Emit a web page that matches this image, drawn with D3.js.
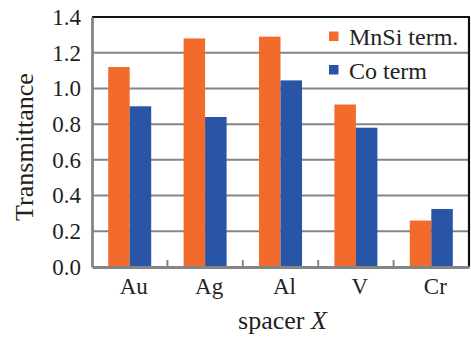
<!DOCTYPE html>
<html>
<head>
<meta charset="utf-8">
<script src="https://cdn.jsdelivr.net/npm/d3@7"></script>
<style>
  body { margin: 0; background: #fff; }
  text { font-family: "Liberation Serif", "Times New Roman", serif; fill: #231f20; }
</style>
</head>
<body>
<svg id="chart" width="471" height="339"></svg>
<script>
const spacers = ["Au", "Ag", "Al", "V", "Cr"];
const mnsiTerm = [1.12, 1.28, 1.29, 0.91, 0.26];
const coTerm = [0.90, 0.84, 1.045, 0.78, 0.325];
const seriesNames = ["MnSi term.", "Co term"];
const seriesColors = ["#f26b2d", "#2855a6"];
const yTicks = [0, 0.2, 0.4, 0.6, 0.8, 1.0, 1.2, 1.4];

const svg = d3.select("#chart");
const margin = { left: 92, right: 2, top: 17, bottom: 72 };
const width = 471, height = 339;
const gray = "#858585";
const serif = "'Liberation Serif', 'Times New Roman', serif";

const x = d3.scaleBand()
    .domain(spacers)
    .range([margin.left, width - margin.right]);

const x1 = d3.scaleBand()
    .domain([0, 1])
    .range([0, 43]);

const y = d3.scaleLinear()
    .domain([0, 1.4])
    .range([height - margin.bottom, margin.top]);

// gridlines
svg.append("g").selectAll("line")
    .data(yTicks.slice(1, -1))
    .join("line")
    .attr("x1", margin.left)
    .attr("x2", width - margin.right)
    .attr("y1", d => y(d))
    .attr("y2", d => y(d))
    .attr("stroke", gray)
    .attr("stroke-width", 2);

// bars
const groups = svg.append("g").selectAll("g")
    .data(spacers.map((s, i) => ({ s, vals: [mnsiTerm[i], coTerm[i]] })))
    .join("g")
    .attr("transform", d => `translate(${x(d.s) + x.bandwidth() / 2 - 21.5},0)`);

groups.selectAll("rect")
    .data(d => d.vals)
    .join("rect")
    .attr("x", (d, i) => x1(i))
    .attr("width", x1.bandwidth())
    .attr("y", d => y(d))
    .attr("height", d => y(0) - y(d))
    .attr("fill", (d, i) => seriesColors[i]);

// frame: top and right black
svg.append("line")
    .attr("x1", margin.left).attr("x2", width - margin.right + 1)
    .attr("y1", y(1.4)).attr("y2", y(1.4))
    .attr("stroke", "#111").attr("stroke-width", 2.2);
svg.append("line")
    .attr("x1", width - margin.right).attr("x2", width - margin.right)
    .attr("y1", y(1.4)).attr("y2", y(0))
    .attr("stroke", "#111").attr("stroke-width", 2.2);

// y axis
const yAxis = svg.append("g")
    .attr("transform", `translate(${margin.left},0)`)
    .call(d3.axisLeft(y).tickValues(yTicks).tickFormat(d3.format(".1f")).tickSize(0).tickPadding(11));
yAxis.attr("font-family", null).attr("font-size", null);
yAxis.select(".domain").attr("stroke", gray).attr("stroke-width", 2.8);
yAxis.selectAll("text")
    .style("font-family", serif)
    .style("font-size", "23px")
    .attr("fill", "#231f20");

// x axis
const xAxis = svg.append("g")
    .attr("transform", `translate(0,${y(0)})`)
    .call(d3.axisBottom(x).tickSize(0).tickPadding(11));
xAxis.attr("font-family", null).attr("font-size", null);
xAxis.select(".domain").attr("stroke", gray).attr("stroke-width", 2.8);
xAxis.selectAll("text")
    .attr("dx", 4)
    .style("font-family", serif)
    .style("font-size", "23px")
    .attr("fill", "#231f20");

// category boundary ticks
svg.append("g").selectAll("line")
    .data(spacers.slice(1))
    .join("line")
    .attr("x1", d => x(d))
    .attr("x2", d => x(d))
    .attr("y1", y(0))
    .attr("y2", y(0) - 7)
    .attr("stroke", gray)
    .attr("stroke-width", 2);

// axis titles
svg.append("text")
    .attr("transform", `translate(33,${(y(0) + y(1.4)) / 2 + 5}) rotate(-90)`)
    .attr("text-anchor", "middle")
    .style("font-family", serif)
    .style("font-size", "26px")
    .text("Transmittance");

const xt = svg.append("text")
    .attr("x", (margin.left + width - margin.right) / 2 + 2)
    .attr("y", 329)
    .attr("text-anchor", "middle")
    .style("font-family", serif)
    .style("font-size", "26px");
xt.append("tspan").text("spacer ");
xt.append("tspan").style("font-style", "italic").text("X");

// legend
const legend = svg.append("g").attr("transform", "translate(329,31.5)");
const items = legend.selectAll("g")
    .data(seriesNames)
    .join("g")
    .attr("transform", (d, i) => `translate(0,${i * 33.5})`);
items.append("rect")
    .attr("width", 9.5).attr("height", 9.5)
    .attr("fill", (d, i) => seriesColors[i]);
items.append("text")
    .attr("x", 20)
    .attr("y", 13.5)
    .style("font-family", serif)
    .style("font-size", "24px")
    .text(d => d);
</script>
</body>
</html>
